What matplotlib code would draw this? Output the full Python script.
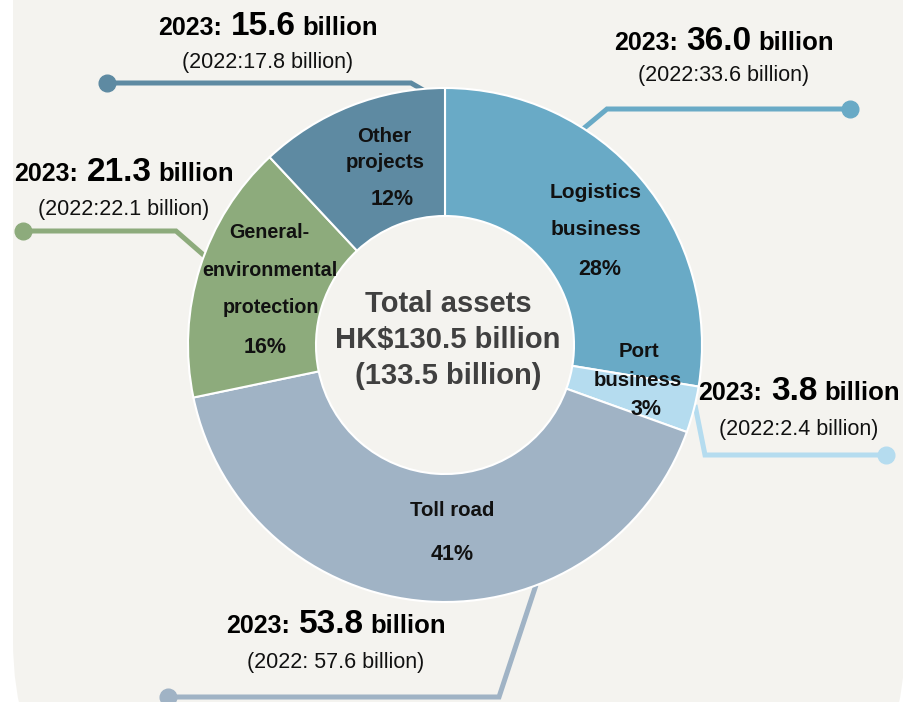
import matplotlib
matplotlib.use("Agg")
import matplotlib.pyplot as plt
from matplotlib.patches import FancyBboxPatch

plt.rcParams['font.family'] = ['Liberation Sans', 'DejaVu Sans']

# ---------------- data ----------------
categories = ["Logistics business", "Port business", "Toll road",
              "General-environmental protection", "Other projects"]
values_2023 = [36.0, 3.8, 53.8, 21.3, 15.6]
values_2022 = [33.6, 2.4, 57.6, 22.1, 17.8]
pct_labels = ["28%", "3%", "41%", "16%", "12%"]
segment_lines = [["Logistics", "business"], ["Port", "business"], ["Toll road"],
                 ["General-", "environmental", "protection"], ["Other", "projects"]]
total_2023 = 130.5
total_2022 = 133.5
sub_formats = ["(2022:{:.1f} billion)", "(2022:{:.1f} billion)", "(2022: {:.1f} billion)",
               "(2022:{:.1f} billion)", "(2022:{:.1f} billion)"]

colors = ["#69aac6", "#b5dcef", "#a0b3c5", "#8dab7c", "#5e8aa2"]

# ---------------- layout ----------------
W, H = 904, 702
def Y(y):
    return H - y

fig = plt.figure(figsize=(W / 100, H / 100), dpi=100)
fig.patch.set_facecolor("white")
ax = fig.add_axes([0, 0, 1, 1])

panel = FancyBboxPatch((13, Y(840)), 905 - 13, 1040,
                       boxstyle="round,pad=0,rounding_size=200",
                       facecolor="#f4f3ef", edgecolor="none", zorder=0)
ax.add_patch(panel)

cx, cy, R = 445, 345, 257
wedges, _ = ax.pie(values_2023, colors=colors, startangle=90, counterclock=False,
                   radius=R, center=(cx, Y(cy)),
                   wedgeprops=dict(width=128, edgecolor="white", linewidth=1.5, zorder=2),
                   frame=False)
ax.set_xlim(0, W)
ax.set_ylim(0, H)
ax.set_aspect("equal")
ax.axis("off")

# segment label layout: list of (x, y) centers per line, pct position, font size
label_layout = [
    dict(lines=[(596, 193), (596, 230)], pct=(600, 270), fs=15),
    dict(lines=[(639, 352), (638, 381)], pct=(646, 410), fs=14.7),
    dict(lines=[(452, 511)], pct=(452, 554), fs=14.7),
    dict(lines=[(269, 233), (270, 271), (271, 308)], pct=(265, 348), fs=14.2),
    dict(lines=[(384, 137), (385, 162)], pct=(392, 200), fs=14.7),
]
for i, lay in enumerate(label_layout):
    for txt, (x, y) in zip(segment_lines[i], lay["lines"]):
        ax.text(x, Y(y), txt, ha="center", va="center", fontsize=lay["fs"],
                fontweight="bold", color="#111111", zorder=5)
    px, py = lay["pct"]
    ax.text(px, Y(py), pct_labels[i], ha="center", va="center", fontsize=15.5,
            fontweight="bold", color="#111111", zorder=5)

# center text
center_lines = ["Total assets", f"HK${total_2023:.1f} billion", f"({total_2022:.1f} billion)"]
for txt, y in zip(center_lines, [304, 340, 376]):
    ax.text(cx + 3, Y(y), txt, ha="center", va="center", fontsize=21,
            fontweight="bold", color="#404040", zorder=5)

# leader lines (image coords) and dot location
leaders = [
    dict(path=[(583, 129), (607, 109), (850, 109)], dot=(850, 109)),
    dict(path=[(695, 405), (705, 455), (886, 455)], dot=(886, 455)),
    dict(path=[(536, 585), (499, 697), (168, 697)], dot=(168, 697)),
    dict(path=[(207, 258), (176, 231), (23, 231)], dot=(23, 231)),
    dict(path=[(430, 94), (411, 83), (107, 83)], dot=(107, 83)),
]
for i, ld in enumerate(leaders):
    xs = [p[0] for p in ld["path"]]
    ys = [Y(p[1]) for p in ld["path"]]
    ax.plot(xs, ys, color=colors[i], lw=3.6, solid_capstyle="butt",
            solid_joinstyle="miter", zorder=1)
    ax.plot([ld["dot"][0]], [Y(ld["dot"][1])], "o", color=colors[i], ms=12,
            zorder=1.5, clip_on=False)

# annotations: (center x, title baseline, sub baseline)
annot_pos = [(724, 50, 81), (799, 400, 435), (336, 633, 668), (124, 181, 215), (268, 35, 68)]

fig.canvas.draw()
renderer = fig.canvas.get_renderer()

def rich_line(xc, yb, parts, gaps):
    objs = []
    for txt, fs in parts:
        t = ax.text(0, Y(yb), txt, ha="left", va="baseline", fontsize=fs,
                    fontweight="bold", color="#000000", zorder=5)
        objs.append(t)
    widths = [t.get_window_extent(renderer).width for t in objs]
    total = sum(widths) + sum(gaps)
    x = xc - total / 2
    for k, t in enumerate(objs):
        t.set_x(x)
        x += widths[k] + (gaps[k] if k < len(gaps) else 0)

for i, (xc, yt, ys) in enumerate(annot_pos):
    rich_line(xc, yt, [("2023:", 18), (f"{values_2023[i]:.1f}", 24), ("billion", 18.5)],
              [9, 7])
    ax.text(xc, Y(ys), sub_formats[i].format(values_2022[i]), ha="center", va="baseline",
            fontsize=15.5, color="#111111", zorder=5)

fig.savefig("out.png", dpi=100, facecolor=fig.get_facecolor())
